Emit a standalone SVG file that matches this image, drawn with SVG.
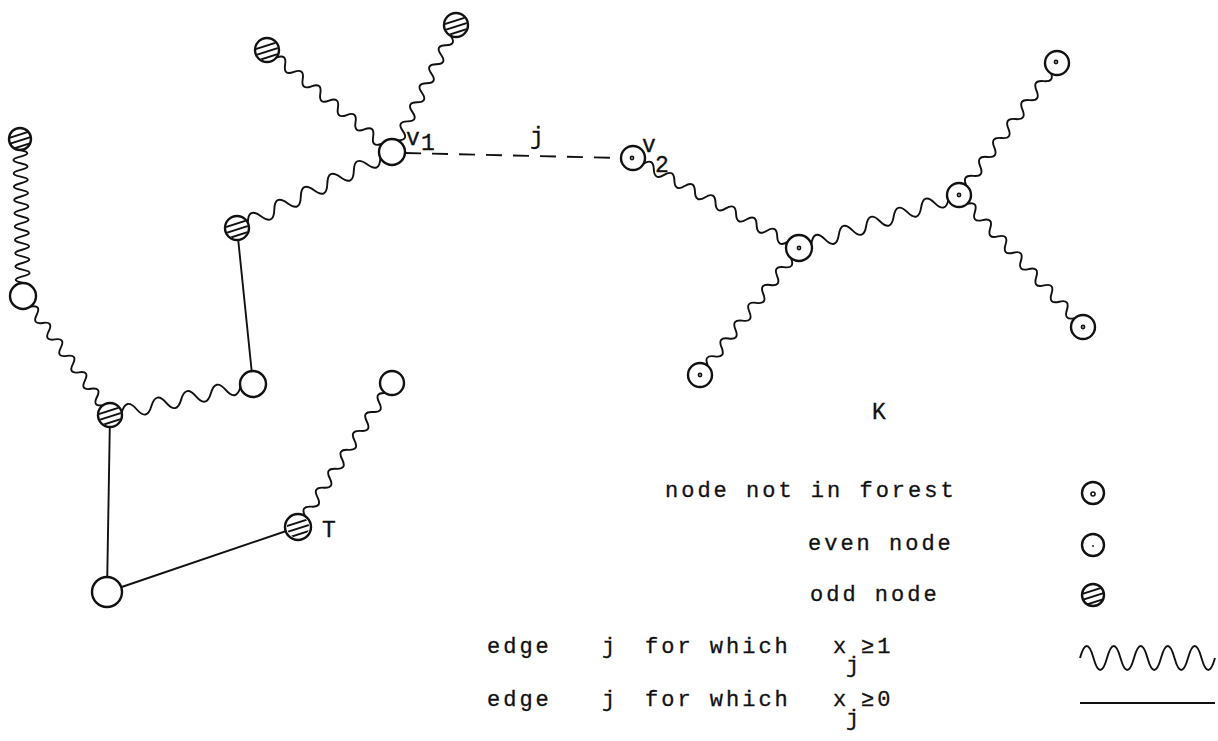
<svg xmlns="http://www.w3.org/2000/svg" xmlns:xlink="http://www.w3.org/1999/xlink" width="1218" height="741" viewBox="0 0 1218 741">
<style>
.bg{fill:#fff}
.nd{fill:#fff;stroke:#111;stroke-width:2.4}
.ln{fill:none;stroke:#111;stroke-width:1.9}
.wv{fill:none;stroke:#111;stroke-width:1.9;stroke-linejoin:round}
.ds{fill:none;stroke:#111;stroke-width:1.9;stroke-dasharray:16 11}
.hl{stroke:#111;stroke-width:2}
.dot{fill:none;stroke:#111;stroke-width:1.6}
.tx{font-family:"Liberation Mono","DejaVu Sans Mono",monospace;font-size:22px;letter-spacing:3px;fill:#111;stroke:#111;stroke-width:0.3}
.lb{font-family:"Liberation Mono","DejaVu Sans Mono",monospace;font-size:23px;fill:#111;stroke:#111;stroke-width:0.3}
</style>
<defs>
<clipPath id="hc"><circle r="11"/></clipPath>
<g id="hatch"><g clip-path="url(#hc)"><line class="hl" x1="-14" y1="0" x2="14" y2="-9"/><line class="hl" x1="-14" y1="6" x2="14" y2="-3"/><line class="hl" x1="-14" y1="12" x2="14" y2="3"/></g></g>
</defs>
<rect class="bg" width="1218" height="741"/>
<g id="connectors">
<path class="wv" transform="translate(267,50) rotate(39.2)" d="M12,0 q5.68,-10 11.36,0 t11.36,0 t11.36,0 t11.36,0 t11.36,0 t11.36,0 t11.36,0 t11.36,0 t11.36,0 t11.36,0 t11.36,0 t11.36,0"/>
<path class="wv" transform="translate(456,25) rotate(116.7)" d="M12,0 q5.33,-10 10.65,0 t10.65,0 t10.65,0 t10.65,0 t10.65,0 t10.65,0 t10.65,0 t10.65,0 t10.65,0 t10.65,0 t10.65,0"/>
<path class="wv" transform="translate(237,228) rotate(-26.1)" d="M12,0 q7.38,-14 14.76,0 t14.76,0 t14.76,0 t14.76,0 t14.76,0 t14.76,0 t14.76,0 t14.76,0 t14.76,0 t14.76,0"/>
<path class="wv" transform="translate(20,139) rotate(88.9)" d="M11,0 q3.33,-14 6.65,0 t6.65,0 t6.65,0 t6.65,0 t6.65,0 t6.65,0 t6.65,0 t6.65,0 t6.65,0 t6.65,0 t6.65,0 t6.65,0 t6.65,0 t6.65,0 t6.65,0 t6.65,0 t6.65,0 t6.65,0 t6.65,0 t6.65,0"/>
<path class="wv" transform="translate(23,296) rotate(53.8)" d="M13,0 q5.1,-10 10.2,0 t10.2,0 t10.2,0 t10.2,0 t10.2,0 t10.2,0 t10.2,0 t10.2,0 t10.2,0 t10.2,0 t10.2,0 t10.2,0"/>
<path class="wv" transform="translate(110,415) rotate(-12.2)" d="M12,0 q7.6,-14 15.2,0 t15.2,0 t15.2,0 t15.2,0 t15.2,0 t15.2,0 t15.2,0 t15.2,0"/>
<path class="wv" transform="translate(298,527) rotate(-56.9)" d="M13,0 q5.65,-10 11.3,0 t11.3,0 t11.3,0 t11.3,0 t11.3,0 t11.3,0 t11.3,0 t11.3,0 t11.3,0 t11.3,0 t11.3,0 t11.3,0 t11.3,0"/>
<path class="wv" transform="translate(633,158) rotate(28.5)" d="M12,0 q5.85,-10 11.7,0 t11.7,0 t11.7,0 t11.7,0 t11.7,0 t11.7,0 t11.7,0 t11.7,0 t11.7,0 t11.7,0 t11.7,0 t11.7,0 t11.7,0 t11.7,0"/>
<path class="wv" transform="translate(799,248) rotate(-18.3)" d="M13,0 q7.23,-14 14.45,0 t14.45,0 t14.45,0 t14.45,0 t14.45,0 t14.45,0 t14.45,0 t14.45,0 t14.45,0 t14.45,0"/>
<path class="wv" transform="translate(959,195) rotate(-53.4)" d="M12,0 q5.9,-10 11.8,0 t11.8,0 t11.8,0 t11.8,0 t11.8,0 t11.8,0 t11.8,0 t11.8,0 t11.8,0 t11.8,0 t11.8,0 t11.8,0"/>
<path class="wv" transform="translate(959,195) rotate(46.8)" d="M12,0 q5.6,-10 11.2,0 t11.2,0 t11.2,0 t11.2,0 t11.2,0 t11.2,0 t11.2,0 t11.2,0 t11.2,0 t11.2,0 t11.2,0 t11.2,0 t11.2,0 t11.2,0"/>
<path class="wv" transform="translate(799,248) rotate(127.9)" d="M13,0 q5.65,-10 11.3,0 t11.3,0 t11.3,0 t11.3,0 t11.3,0 t11.3,0 t11.3,0 t11.3,0 t11.3,0 t11.3,0 t11.3,0 t11.3,0"/>
<line class="ln" x1="237" y1="228" x2="253" y2="384"/>
<line class="ln" x1="110" y1="415" x2="107" y2="592"/>
<line class="ln" x1="107" y1="592" x2="298" y2="527"/>
<line class="ds" x1="405" y1="153" x2="621" y2="158"/>
</g>
<g id="odd-A" transform="translate(267,50)"><circle class="nd" r="12"/><use href="#hatch"/></g>
<g id="odd-B" transform="translate(456,25)"><circle class="nd" r="12"/><use href="#hatch"/></g>
<g id="odd-C" transform="translate(20,139)"><circle class="nd" r="11"/><use href="#hatch"/></g>
<g id="odd-D" transform="translate(237,228)"><circle class="nd" r="12"/><use href="#hatch"/></g>
<g id="odd-E" transform="translate(110,415)"><circle class="nd" r="12"/><use href="#hatch"/></g>
<g id="odd-T" transform="translate(298,527)"><circle class="nd" r="13"/><use href="#hatch"/></g>
<g id="even-v1"><circle class="nd" cx="392" cy="152" r="13"/></g>
<g id="even-G"><circle class="nd" cx="23" cy="296" r="13"/></g>
<g id="even-H"><circle class="nd" cx="253" cy="384" r="13"/></g>
<g id="even-I"><circle class="nd" cx="392" cy="383" r="12"/></g>
<g id="even-J"><circle class="nd" cx="107" cy="592" r="15"/></g>
<g id="nf-v2"><circle class="nd" cx="633" cy="158" r="12"/><circle class="dot" cx="632" cy="158" r="1.6"/></g>
<g id="nf-K1"><circle class="nd" cx="799" cy="248" r="13"/><circle class="dot" cx="799" cy="248" r="1.6"/></g>
<g id="nf-K2"><circle class="nd" cx="959" cy="195" r="12"/><circle class="dot" cx="959" cy="195" r="1.6"/></g>
<g id="nf-K3"><circle class="nd" cx="1057" cy="63" r="12"/><circle class="dot" cx="1056" cy="62" r="1.6"/></g>
<g id="nf-K4"><circle class="nd" cx="1083" cy="327" r="12"/><circle class="dot" cx="1083" cy="327" r="1.6"/></g>
<g id="nf-K5"><circle class="nd" cx="700" cy="375" r="12"/><circle class="dot" cx="700" cy="375" r="1.6"/></g>
<g id="labels">
<text class="lb" x="406" y="145">v</text><text class="lb" x="421" y="150">1</text>
<text class="lb" x="530" y="144">j</text>
<text class="lb" x="642" y="152">v</text><text class="lb" x="655" y="172">2</text>
<text class="lb" x="872" y="419">K</text>
<text class="lb" x="322" y="537">T</text>
</g>
<g id="legend">
<text class="tx" x="665" y="497">node not in forest</text>
<g id="leg-nf"><circle class="nd" cx="1093" cy="493" r="11"/><circle class="dot" cx="1093" cy="494" r="2"/></g>
<text class="tx" x="808" y="550">even node</text>
<g id="leg-even"><circle class="nd" cx="1093" cy="545" r="11"/><circle cx="1093" cy="546" r="0.9" fill="#111"/></g>
<text class="tx" x="810" y="601">odd node</text>
<g id="leg-odd" transform="translate(1093,595)"><circle class="nd" r="11"/><use href="#hatch"/></g>
<text class="tx" x="487" y="653">edge</text><text class="tx" x="602" y="653">j</text><text class="tx" x="645" y="653">for which</text><text class="tx" x="833" y="653">x</text><text class="tx" x="846" y="672">j</text><text class="tx" x="861" y="653">≥1</text>
<path class="wv" d="M1080,658 q6.75,-24 13.5,0 t13.5,0 t13.5,0 t13.5,0 t13.5,0 t13.5,0 t13.5,0 t13.5,0 t13.5,0 t13.5,0"/>
<text class="tx" x="487" y="706">edge</text><text class="tx" x="602" y="706">j</text><text class="tx" x="645" y="706">for which</text><text class="tx" x="833" y="706">x</text><text class="tx" x="846" y="725">j</text><text class="tx" x="861" y="706">≥0</text>
<line class="ln" x1="1080" y1="703" x2="1215" y2="703"/>
</g>
</svg>
